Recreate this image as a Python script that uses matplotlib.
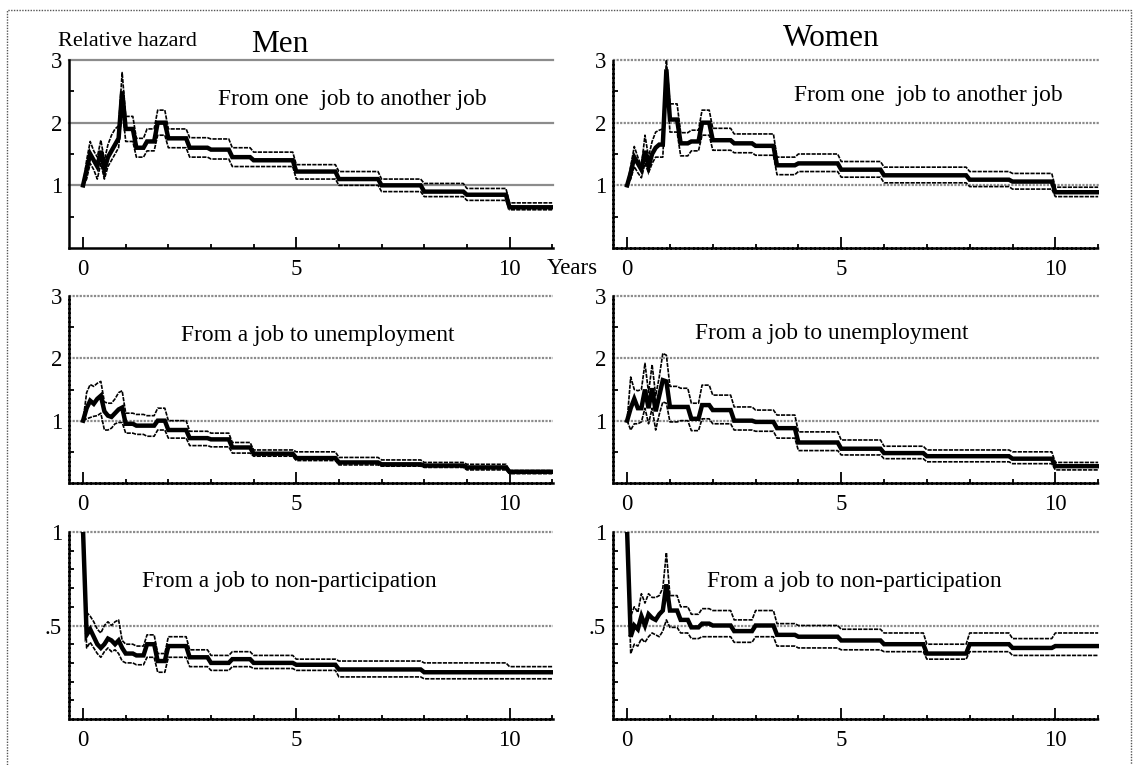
import matplotlib
matplotlib.use('Agg')
import matplotlib.pyplot as plt
from matplotlib.patches import Rectangle

plt.rcParams['font.family'] = ['Liberation Serif', 'DejaVu Serif']

# ---------------- data ----------------
# time grid: monthly points for the first year, then piecewise-constant periods
month_times = [m / 12 for m in range(12)]
step_starts = [1.0, 1.25, 1.5, 1.75, 2.0, 2.5, 3.0, 3.5, 4.0, 5.0, 6.0, 7.0, 8.0, 9.0, 10.0]
end_year = 11.0

# Men: from one job to another job
men_job_est = [1.0, 1.25, 1.5, 1.4, 1.3, 1.55, 1.25, 1.45, 1.55, 1.65, 1.75, 2.5,
               1.9, 1.6, 1.7, 2.0, 1.75, 1.6, 1.57, 1.45, 1.4, 1.22, 1.1, 1.0, 0.9, 0.85, 0.65]
men_job_hi = [1.0, 1.4, 1.7, 1.55, 1.45, 1.72, 1.4, 1.65, 1.8, 1.9, 1.95, 2.8,
              2.1, 1.75, 1.9, 2.2, 1.9, 1.76, 1.74, 1.6, 1.53, 1.33, 1.22, 1.1, 1.03, 0.95, 0.72]
men_job_lo = [1.0, 1.1, 1.35, 1.25, 1.1, 1.35, 1.1, 1.3, 1.4, 1.5, 1.6, 2.25,
              1.7, 1.45, 1.55, 1.8, 1.6, 1.45, 1.42, 1.3, 1.3, 1.1, 1.0, 0.9, 0.82, 0.76, 0.61]

# Women: from one job to another job
wom_job_est = [1.0, 1.2, 1.45, 1.35, 1.25, 1.55, 1.3, 1.5, 1.6, 1.65, 1.65, 2.85,
               2.05, 1.67, 1.7, 2.0, 1.72, 1.67, 1.63, 1.32, 1.35, 1.25, 1.16, 1.16, 1.09, 1.06, 0.89]
wom_job_hi = [1.0, 1.3, 1.62, 1.45, 1.3, 1.8, 1.45, 1.7, 1.85, 1.88, 1.9, 3.0,
              2.3, 1.84, 1.88, 2.2, 1.91, 1.82, 1.82, 1.45, 1.5, 1.38, 1.29, 1.29, 1.22, 1.19, 0.97]
wom_job_lo = [1.0, 1.1, 1.3, 1.2, 1.12, 1.35, 1.2, 1.35, 1.45, 1.45, 1.45, 2.7,
              1.85, 1.47, 1.55, 1.8, 1.56, 1.52, 1.48, 1.17, 1.22, 1.13, 1.04, 1.04, 0.98, 0.94, 0.82]

# Men: from a job to unemployment
men_une_est = [1.0, 1.2, 1.32, 1.27, 1.35, 1.4, 1.15, 1.08, 1.06, 1.12, 1.18, 1.21,
               0.95, 0.92, 0.92, 1.0, 0.85, 0.72, 0.7, 0.57, 0.47, 0.4, 0.33, 0.3, 0.28, 0.25, 0.18]
men_une_hi = [1.0, 1.45, 1.58, 1.55, 1.6, 1.63, 1.3, 1.28, 1.28, 1.35, 1.45, 1.48,
              1.12, 1.1, 1.08, 1.2, 1.0, 0.83, 0.8, 0.65, 0.53, 0.5, 0.41, 0.37, 0.33, 0.3, 0.2]
men_une_lo = [1.0, 1.03, 1.05, 1.07, 1.08, 1.12, 0.85, 0.85, 0.88, 0.95, 0.97, 0.97,
              0.8, 0.78, 0.75, 0.85, 0.72, 0.6, 0.58, 0.48, 0.43, 0.36, 0.29, 0.27, 0.25, 0.21, 0.15]

# Women: from a job to unemployment
wom_une_est = [1.0, 1.2, 1.35, 1.2, 1.2, 1.5, 1.2, 1.52, 1.15, 1.4, 1.65, 1.63,
               1.22, 1.22, 1.03, 1.25, 1.17, 1.0, 0.98, 0.88, 0.65, 0.55, 0.48, 0.43, 0.43, 0.39, 0.27]
wom_une_hi = [1.0, 1.7, 1.5, 1.48, 1.5, 1.92, 1.45, 1.9, 1.4, 1.7, 2.08, 2.05,
              1.55, 1.52, 1.28, 1.57, 1.41, 1.22, 1.17, 1.09, 0.82, 0.69, 0.59, 0.53, 0.53, 0.5, 0.33]
wom_une_lo = [1.0, 0.85, 0.95, 0.95, 0.98, 1.2, 0.95, 1.2, 0.85, 1.1, 1.3, 1.28,
              0.98, 1.0, 0.84, 1.03, 0.95, 0.85, 0.83, 0.72, 0.52, 0.45, 0.39, 0.34, 0.34, 0.31, 0.21]

# Men: from a job to non-participation
men_np_est = [1.0, 0.45, 0.48, 0.44, 0.4, 0.38, 0.4, 0.43, 0.42, 0.4, 0.42, 0.38,
              0.35, 0.34, 0.4, 0.31, 0.39, 0.33, 0.3, 0.32, 0.3, 0.29, 0.265, 0.265, 0.25, 0.25, 0.25]
men_np_hi = [1.0, 0.57, 0.55, 0.52, 0.48, 0.46, 0.5, 0.52, 0.5, 0.52, 0.53, 0.42,
             0.4, 0.39, 0.45, 0.35, 0.44, 0.37, 0.34, 0.36, 0.34, 0.32, 0.31, 0.31, 0.3, 0.3, 0.28]
men_np_lo = [1.0, 0.38, 0.41, 0.38, 0.35, 0.33, 0.36, 0.38, 0.36, 0.37, 0.35, 0.31,
             0.3, 0.29, 0.33, 0.25, 0.33, 0.28, 0.26, 0.28, 0.27, 0.26, 0.225, 0.225, 0.215, 0.215, 0.215]

# Women: from a job to non-participation
wom_np_est = [1.0, 0.44, 0.5, 0.48, 0.55, 0.5, 0.56, 0.54, 0.53, 0.56, 0.58, 0.72,
              0.58, 0.53, 0.49, 0.51, 0.5, 0.47, 0.5, 0.45, 0.44, 0.42, 0.4, 0.35, 0.4, 0.38, 0.39]
wom_np_hi = [1.0, 0.55, 0.6, 0.57, 0.67, 0.62, 0.67, 0.65, 0.65, 0.66, 0.7, 0.89,
             0.66, 0.6, 0.56, 0.59, 0.58, 0.53, 0.58, 0.51, 0.5, 0.48, 0.46, 0.4, 0.46, 0.43, 0.46]
wom_np_lo = [1.0, 0.35, 0.4, 0.39, 0.43, 0.41, 0.44, 0.46, 0.45, 0.44, 0.47, 0.53,
             0.49, 0.46, 0.43, 0.44, 0.44, 0.41, 0.44, 0.39, 0.38, 0.37, 0.36, 0.32, 0.36, 0.34, 0.34]

panel_labels = ["From one  job to another job", "From a job to unemployment",
                "From a job to non-participation"]
x_tick_labels = ["0", "5", "10"]

# ---------------- helpers ----------------
W, H = 1136, 765


def path(vals):
    xs, ys = [], []
    for t, v in zip(month_times, vals[:12]):
        xs.append(t)
        ys.append(v)
    ends = step_starts[1:] + [end_year]
    for s, e, v in zip(step_starts, ends, vals[12:]):
        xs += [s, e - (1 / 12 if e < end_year else 0)]
        ys += [v, v]
    return xs, ys


def add_ax(fig, l, t, r, b):
    return fig.add_axes([l / W, 1 - b / H, (r - l) / W, (b - t) / H])


fig = plt.figure(figsize=(W / 100, H / 100), dpi=100)

cols = [(69, 553), (613, 1099)]
rows = [(60, 248), (296, 483), (532, 719)]
data = [
    [(men_job_est, men_job_hi, men_job_lo), (wom_job_est, wom_job_hi, wom_job_lo)],
    [(men_une_est, men_une_hi, men_une_lo), (wom_une_est, wom_une_hi, wom_une_lo)],
    [(men_np_est, men_np_hi, men_np_lo), (wom_np_est, wom_np_hi, wom_np_lo)],
]
label_pos = [
    [(352, 99), (928, 95)],
    [(318, 335), (832, 334)],
    [(289, 582), (854, 581)],
]

for ri, (top, bot) in enumerate(rows):
    for ci, (left, right) in enumerate(cols):
        ax = add_ax(fig, left, top, right, bot)
        est, hi, lo = data[ri][ci]
        solid = (ri == 0 and ci == 0)
        spine_ls = '-' if solid else (0, (1.2, 0.6))
        grid_ls = '-' if solid else (0, (1.0, 0.6))

        if ri < 2:
            ymax = 3.0
            yt = [1, 2, 3]
            ytl = ['1', '2', '3']
            ymin_ticks = [0.5, 1.5, 2.5]
        else:
            ymax = 1.0
            yt = [0.5, 1.0]
            ytl = ['.5', '1']
            ymin_ticks = [0.1, 0.2, 0.3, 0.4, 0.6, 0.7, 0.8, 0.9]

        for g in yt:
            ax.axhline(g, color='#8c8c8c', lw=1.6, ls=grid_ls, zorder=0.5, clip_on=False)

        for ser in (hi, lo):
            xs, ys = path(ser)
            ax.plot(xs, ys, color='black', lw=1.2, ls=(0, (2.5, 0.7)), zorder=2,
                    solid_joinstyle='miter')
        xs, ys = path(est)
        ax.plot(xs, ys, color='black', lw=3.2, zorder=3, solid_joinstyle='miter')

        ax.set_xlim(-0.33, 11.02)
        ax.set_ylim(0, ymax)
        for s in ('top', 'right'):
            ax.spines[s].set_visible(False)
        for s in ('left', 'bottom'):
            ax.spines[s].set_linewidth(1.8)
            ax.spines[s].set_linestyle(spine_ls)
            ax.spines[s].set_color('black')

        ax.set_xticks([0, 5, 10])
        ax.set_xticklabels(x_tick_labels)
        ax.set_xticks(list(range(12)), minor=True)
        ax.set_yticks(yt)
        ax.set_yticklabels(ytl)
        ax.set_yticks(ymin_ticks, minor=True)
        ax.tick_params(axis='x', which='major', direction='in', length=8, width=1.3,
                       pad=8, labelsize=16.5)
        ax.tick_params(axis='x', which='minor', direction='in', length=3, width=1.3)
        ax.tick_params(axis='y', which='major', length=0, pad=5, labelsize=16.5)
        ax.tick_params(axis='y', which='minor', direction='in', length=3.5, width=1.3)
        ax.patch.set_visible(False)

        lx, ly = label_pos[ri][ci]
        fig.text(lx / W, 1 - ly / H, panel_labels[ri], ha='center', va='center',
                 fontsize=16.8)

fig.text(58 / W, 1 - 42 / H, "Relative hazard", ha='left', va='center', fontsize=16)
fig.text(280 / W, 1 - 45 / H, "Men", ha='center', va='center', fontsize=22.5)
fig.text(831 / W, 1 - 39 / H, "Women", ha='center', va='center', fontsize=22.5)
fig.text(547 / W, 1 - 268 / H, "Years", ha='left', va='center', fontsize=16.5)

border = Rectangle((7 / W, -0.05), (1131 - 7) / W, 1 - 10 / H + 0.05, fill=False,
                   ls=(0, (1, 1)), lw=1.0, edgecolor='#555555',
                   transform=fig.transFigure, clip_on=False)
fig.patches.append(border)

fig.savefig('out.png', dpi=100)
